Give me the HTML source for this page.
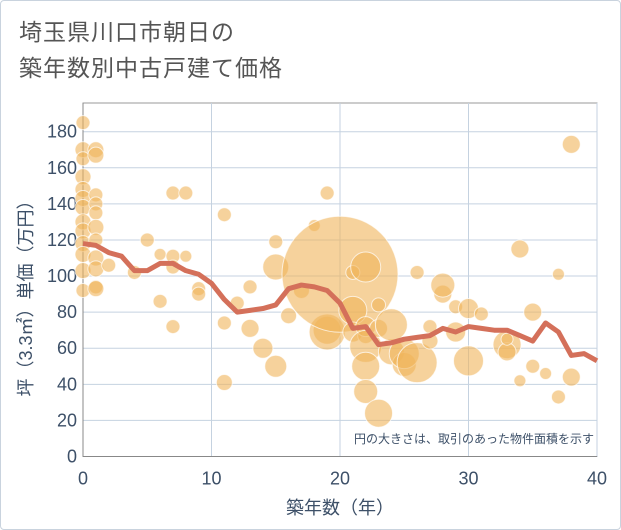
<!DOCTYPE html>
<html><head><meta charset="utf-8"><style>
body{margin:0;background:#fff;}
#wrap{position:relative;width:619px;height:528px;border:1px solid #c9d3de;border-radius:4px;overflow:hidden;font-family:"Liberation Sans","Noto Sans CJK JP",sans-serif;}
#title{position:absolute;left:18px;top:13px;font-size:23px;line-height:36px;color:#555;letter-spacing:1px;}
svg text{font-family:"Liberation Sans","Noto Sans CJK JP",sans-serif;}
</style></head><body>
<div id="wrap">
<div id="title">埼玉県川口市朝日の<br>築年数別中古戸建て価格</div>
<svg id="chart" width="621" height="530" style="position:absolute;left:-1px;top:-1px"></svg>
</div>
<script>
const xTicks=[0,10,20,30,40];
const yTicks=[0,20,40,60,80,100,120,140,160,180];
const bubbleX=[0,0,0,0,0,0,0,0,0,0,0,0,0,1,1,1,1,1,1,1,1,1,1,1,2,4,5,6,6,7,7,7,7,8,8,9,9,11,11,11,12,13,13,14,15,15,15,16,17,18,19,19,19,20,21,21,21,22,22,22,22,22,22,23,23,23,24,24,25,25,26,26,27,27,28,28,29,29,30,30,31,33,33,33,34,34,35,35,36,37,37,38,38];
const bubbleY=[185,170,165,155,148,143,138,130,125,118,112,103,92,170,167,145,140,135,127,120,110,104,94,93,106,102,120,112,86,146,111,105,72,146,111,93,90,134,74,41,85,94,71,60,50,119,105,78,92,128,146,70,69,101,102,81,69,67,105,72,61,50,36,24,84,71,58,73,51,57,52,102,72,64,90,95,83,69,53,82,79,62,58,65,42,115,80,50,46,101,33,173,44];
const bubbleR=[7,8,7,8,8,8,8,8,8,8,8,8,7,8,8,7,7,7,8,7,8,8,7,8,7,7,7,6,7,7,7,7,7,7,6,7,7,7,7,8,7,7,9,10,11,7,13,8,8,6,7,14,18,58,7,14,10,8,15,10,16,14,12,14,7,9,13,16,12,15,20,7,7,8,9,12,7,10,15,10,7,14,9,6,6,9,9,7,6,6,7,9,9];
const lineX=[0,1,2,3,4,5,6,7,8,9,10,11,12,13,14,15,16,17,18,19,20,21,22,23,24,25,26,27,28,29,30,31,32,33,34,35,36,37,38,39,40];
const lineY=[118,117,113,111,103,103,107,107,103,101,96,87,80,81,82,84,93,95,94,92,85,71,72,62,63,65,66,67,71,69,72,71,70,70,67,64,74,69,56,57,53];
const X0=83,X1=597,Y0=456.5,Y1=131.7,TOP=103;
const sx=v=>X0+(X1-X0)*v/40, sy=v=>Y0-(Y0-Y1)*v/180;
const NS='http://www.w3.org/2000/svg', svg=document.getElementById('chart');
function mk(t,a,p){const e=document.createElementNS(NS,t);for(const k in a)e.setAttribute(k,a[k]);(p||svg).appendChild(e);return e;}
mk('rect',{x:X0,y:TOP,width:X1-X0,height:Y0-TOP,fill:'#fff',stroke:'#999','stroke-width':1});
yTicks.forEach(v=>{
 const l=mk('line',{x1:X0,x2:X1,y1:sy(v),y2:sy(v),stroke:'#c5d2e0','stroke-width':1});
 
 
 const t=mk('text',{x:X0-6,y:sy(v)+6,'text-anchor':'end','font-size':18,fill:'#3d5068'});t.textContent=v;
 
 
});
xTicks.forEach(v=>{
 const l=mk('line',{x1:sx(v),x2:sx(v),y1:TOP,y2:Y0,stroke:'#c5d2e0','stroke-width':1});
 
 
 const t=mk('text',{x:sx(v),y:Y0+28,'text-anchor':'middle','font-size':18,fill:'#3d5068'});t.textContent=v;
 
 
});
mk('line',{x1:X0,x2:X1,y1:Y0,y2:Y0,stroke:'#888'});
mk('line',{x1:X0,x2:X0,y1:TOP,y2:Y0,stroke:'#888'});
bubbleX.forEach((x,i)=>{
 const c=mk('circle',{cx:sx(x),cy:sy(bubbleY[i]),r:bubbleR[i],fill:'rgba(240,180,90,0.6)',stroke:'rgba(255,255,255,0.7)','stroke-width':1});
 
 
});
const p=mk('polyline',{points:lineX.map((x,i)=>sx(x)+','+sy(lineY[i])).join(' '),fill:'none',stroke:'#d4705a','stroke-width':5,'stroke-linejoin':'round'});


const note=mk('text',{x:594,y:443,'text-anchor':'end','font-size':12,fill:'#3d5068'});note.textContent='円の大きさは、取引のあった物件面積を示す';


const xt=mk('text',{x:340,y:514,'text-anchor':'middle','font-size':18,fill:'#3d5068'});xt.textContent='築年数（年）';


const yt=mk('text',{x:0,y:0,'text-anchor':'middle','font-size':18,fill:'#3d5068',transform:'translate(32,294) rotate(-90)'});yt.textContent='坪（3.3㎡）単価（万円）';


</script>
</body></html>
